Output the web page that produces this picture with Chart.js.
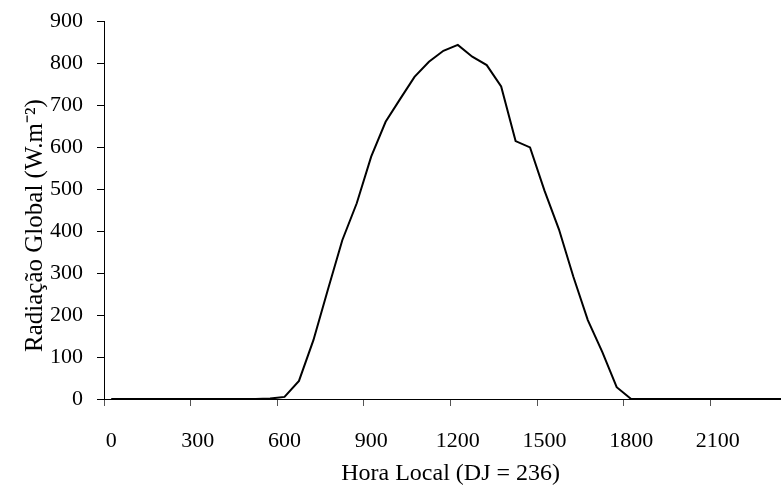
<!DOCTYPE html>
<html>
<head>
<meta charset="utf-8">
<script src="https://cdn.jsdelivr.net/npm/chart.js@4.4.1/dist/chart.umd.min.js"></script>
<style>
  html, body { margin: 0; padding: 0; background: #fff; overflow: hidden; }
  #grafico { display: block; }
</style>
</head>
<body>
<canvas id="grafico" width="812" height="490"></canvas>
<script>
// Horas locais (HHMM), de meia em meia hora
const horas = ['0', '30', '100', '130', '200', '230', '300', '330', '400', '430', '500', '530',
               '600', '630', '700', '730', '800', '830', '900', '930', '1000', '1030', '1100', '1130',
               '1200', '1230', '1300', '1330', '1400', '1430', '1500', '1530', '1600', '1630', '1700', '1730',
               '1800', '1830', '1900', '1930', '2000', '2030', '2100', '2130', '2200', '2230', '2300', '2330'];

// Radiação global (W/m2)
const radiacao = [0, 0, 0, 0, 0, 0, 0, 0, 0, 0, 0, 1,
                  5, 43, 140, 260, 378, 466, 577, 660, 714, 767, 803, 829,
                  843, 815, 795, 744, 614, 599, 496, 404, 291, 188, 112, 28,
                  0, 0, 0, 0, 0, 0, 0, 0, 0, 0, 0, 0];

const yTicks = [0, 100, 200, 300, 400, 500, 600, 700, 800, 900];

const serif = '"Liberation Serif", "Times New Roman", serif';

new Chart(document.getElementById('grafico'), {
    type: 'line',
    data: {
        labels: horas,
        datasets: [{
            data: radiacao,
            borderColor: '#000',
            borderWidth: 2,
            pointRadius: 0,
            tension: 0,
            fill: false
        }]
    },
    options: {
        responsive: false,
        devicePixelRatio: 1,
        animation: false,
        layout: { padding: { top: 21, right: 0, left: 0, bottom: 0 } },
        plugins: { legend: { display: false }, tooltip: { enabled: false } },
        scales: {
            x: {
                type: 'category',
                offset: true,
                grid: {
                    offset: true,
                    drawOnChartArea: false,
                    drawTicks: true,
                    tickLength: 7,
                    color: (ctx) => ctx.index % 6 === 0 ? '#555' : 'rgba(0,0,0,0)'
                },
                border: { display: true, color: '#000', width: 1 },
                ticks: {
                    autoSkip: false,
                    maxRotation: 0,
                    minRotation: 0,
                    padding: 22,
                    color: '#000',
                    font: { family: serif, size: 22 },
                    callback: (v, i) => i % 6 === 0 ? horas[i] : ''
                },
                title: {
                    display: true,
                    text: 'Hora Local (DJ = 236)',
                    color: '#000',
                    font: { family: serif, size: 24 },
                    padding: { top: 0, bottom: 2 }
                },
                afterFit: (s) => { s.height = 91; }
            },
            y: {
                min: 0,
                max: 900,
                afterBuildTicks: (s) => { s.ticks = yTicks.map(v => ({ value: v })); },
                grid: {
                    drawOnChartArea: false,
                    drawTicks: true,
                    tickLength: 7,
                    color: '#000'
                },
                border: { display: true, color: '#000', width: 1 },
                ticks: {
                    padding: 14,
                    color: '#000',
                    font: { family: serif, size: 22 }
                },
                title: {
                    display: true,
                    text: 'Radiação Global (W.m⁻²)     ',
                    color: '#000',
                    font: { family: serif, size: 25 },
                    padding: { top: 20, bottom: 0 }
                },
                afterFit: (s) => {
                    s.width = 104;
                    s.paddingTop = 0;
                    s.paddingBottom = 0;
                }
            }
        }
    }
});
</script>
</body>
</html>
